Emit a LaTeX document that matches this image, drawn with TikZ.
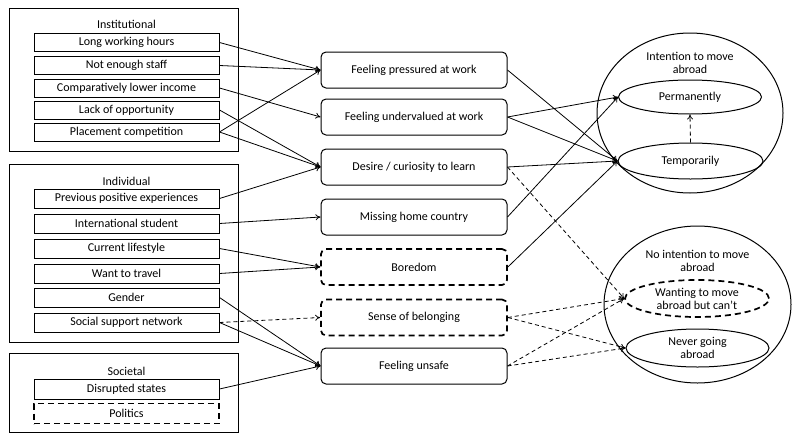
\documentclass[tikz,border=0pt]{standalone}
\usepackage{fontspec}
\setmainfont{Carlito}
\usetikzlibrary{arrows.meta,shapes.geometric}
\begin{document}
\begin{tikzpicture}[x=1pt,y=-1pt,
  every node/.style={font=\fontsize{12}{13}\selectfont},
  grp/.style={draw, line width=1pt, minimum width=229pt, inner sep=0pt, anchor=north west},
  inbox/.style={draw, line width=1pt, minimum width=185pt, minimum height=18pt, inner sep=0pt},
  dinbox/.style={inbox, line width=1.7pt, dash pattern=on 6pt off 4pt},
  midbox/.style={draw, rounded corners=5pt, line width=1pt, minimum width=186pt, minimum height=36pt, inner sep=0pt},
  dmidbox/.style={midbox, line width=1.7pt, dash pattern=on 6pt off 4pt},
  bigell/.style={draw, ellipse, line width=1pt, inner sep=0pt},
  smell/.style={draw, ellipse, line width=1pt, inner sep=0pt, align=center, minimum width=143pt},
  arr/.style={-{To[length=5pt,width=6pt]}, line width=0.8pt},
  darr/.style={arr, dash pattern=on 4pt off 3pt}
]
\fill[white] (0,0) rectangle (800,442);
\useasboundingbox (0,0) rectangle (800,442);

% group boxes
\node[grp, minimum height=143pt] (ginst) at (9,8) {};
\node[grp, minimum height=178pt] (gind) at (9,164) {};
\node[grp, minimum height=79pt] (gsoc) at (9,353) {};
\node (tinst) at (126.5,24) {Institutional};
\node (tind) at (126.5,181) {Individual};
\node (tsoc) at (126.5,371) {Societal};

% institutional
\node[inbox] (lwh) at (126.5,42.5) {Long working hours};
\node[inbox] (nes) at (126.5,65.5) {Not enough staff};
\node[inbox] (cli) at (126.5,88) {Comparatively lower income};
\node[inbox] (loo) at (126.5,110) {Lack of opportunity};
\node[inbox] (pc) at (126.5,132) {Placement competition};
% individual
\node[inbox, minimum height=19pt] (ppe) at (126.5,198.5) {Previous positive experiences};
\node[inbox, minimum height=19pt] (is) at (126.5,223.5) {International student};
\node[inbox, minimum height=19pt] (cl) at (126.5,248.5) {Current lifestyle};
\node[inbox, minimum height=19pt] (wtt) at (126.5,273.5) {Want to travel};
\node[inbox, minimum height=19pt] (gen) at (126.5,297.5) {Gender};
\node[inbox, minimum height=19pt] (ssn) at (126.5,322.5) {Social support network};
% societal
\node[inbox, minimum height=20pt] (ds) at (126.5,389) {Disrupted states};
\node[dinbox, minimum height=20pt] (pol) at (126.5,413.5) {Politics};

% middle
\node[midbox] (fpw) at (414,70) {Feeling pressured at work};
\node[midbox] (fuw) at (414,117) {Feeling undervalued at work};
\node[midbox] (dcl) at (414,167) {Desire / curiosity to learn};
\node[midbox] (mhc) at (414,217) {Missing home country};
\node[dmidbox] (bor) at (414,267) {Boredom};
\node[dmidbox] (sob) at (414,317.5) {Sense of belonging};
\node[midbox] (fun) at (414,366) {Feeling unsafe};

% right
\node[bigell, minimum width=186pt, minimum height=160pt] (intc) at (690,113) {};
\node[align=center] (intt) at (690,63) {Intention to move\\abroad};
\node[smell, minimum height=34pt] (perm) at (690,97) {Permanently};
\node[smell, minimum width=145pt, minimum height=36pt] (temp) at (690.5,161) {Temporarily};

\node[bigell, minimum width=187pt, minimum height=157pt] (noc) at (697.5,304.5) {};
\node[align=center] (not) at (697.5,260.5) {No intention to move\\abroad};
\node[smell, minimum width=144pt, minimum height=37pt, line width=1.7pt, dash pattern=on 6pt off 4pt] (want) at (697,298.5) {Wanting to move\\abroad but can’t};
\node[smell, minimum width=143pt, minimum height=38pt] (nev) at (697.5,348) {Never going\\abroad};

% left -> middle
\draw[arr] (lwh.east) -- (fpw.west);
\draw[arr] (nes.east) -- (fpw.west);
\draw[arr] (cli.east) -- (fuw.west);
\draw[arr] (loo.east) -- (dcl.west);
\draw[arr] (pc.east) -- (fpw.west);
\draw[arr] (pc.east) -- (dcl.west);
\draw[arr] (ppe.east) -- (dcl.west);
\draw[arr] (is.east) -- (mhc.west);
\draw[arr] (cl.east) -- (bor.west);
\draw[arr] (wtt.east) -- (bor.west);
\draw[arr] (gen.east) -- (fun.west);
\draw[darr] (ssn.east) -- (sob.west);
\draw[arr] (ssn.east) -- (fun.west);
\draw[arr] (ds.east) -- (fun.west);

% middle -> right
\draw[arr] (fpw.east) -- (temp.west);
\draw[arr] (fuw.east) -- (perm.west);
\draw[arr] (fuw.east) -- (temp.west);
\draw[arr] (dcl.east) -- (temp.west);
\draw[darr] (dcl.east) -- (want.west);
\draw[arr] (mhc.east) -- (perm.west);
\draw[arr] (bor.east) -- (temp.west);
\draw[darr] (sob.east) -- (want.west);
\draw[darr] (sob.east) -- (nev.west);
\draw[darr] (fun.east) -- (want.west);
\draw[darr] (fun.east) -- (nev.west);
\draw[darr] (temp.north) -- (perm.south);
\end{tikzpicture}
\end{document}
